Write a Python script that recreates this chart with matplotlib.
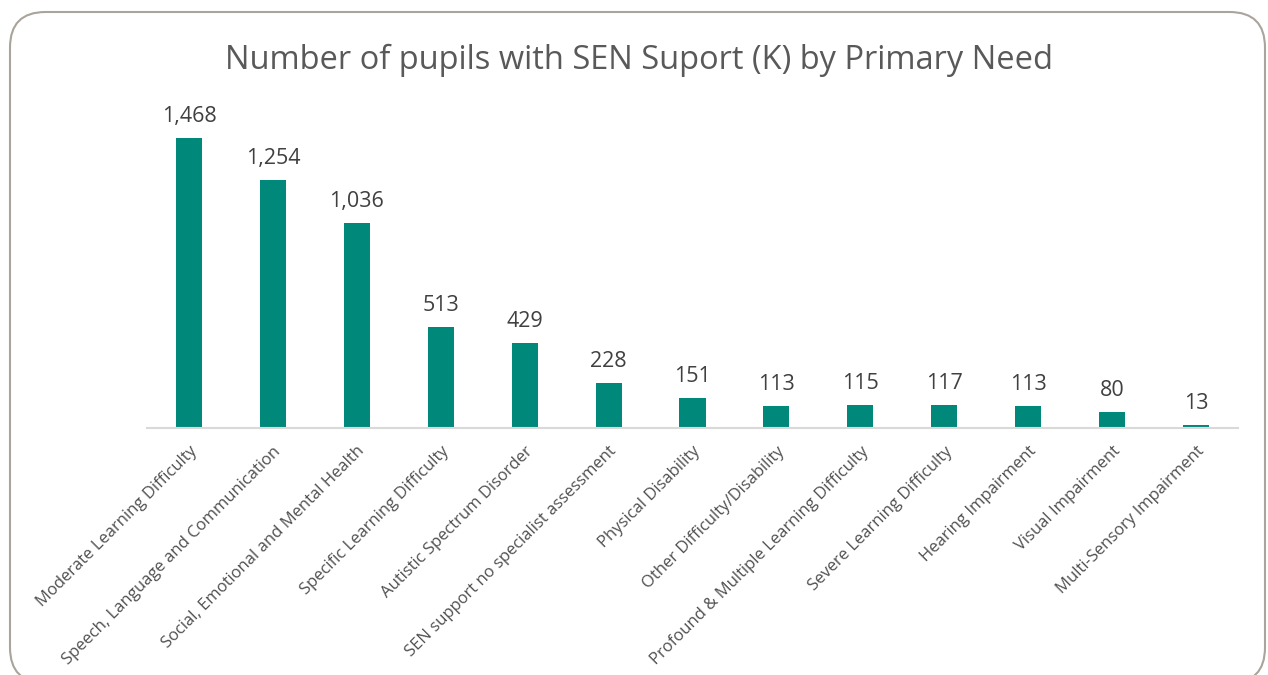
import matplotlib
matplotlib.use("Agg")
import matplotlib.pyplot as plt
from matplotlib.patches import FancyBboxPatch

plt.rcParams["font.family"] = ["Open Sans", "DejaVu Sans"]

# ── data ──
needs = [
    "Moderate Learning Difficulty",
    "Speech, Language and Communication",
    "Social, Emotional and Mental Health",
    "Specific Learning Difficulty",
    "Autistic Spectrum Disorder",
    "SEN support no specialist assessment",
    "Physical Disability",
    "Other Difficulty/Disability",
    "Profound & Multiple Learning Difficulty",
    "Severe Learning Difficulty",
    "Hearing Impairment",
    "Visual Impairment",
    "Multi-Sensory Impairment",
]
pupils = [1468, 1254, 1036, 513, 429, 228, 151, 113, 115, 117, 113, 80, 13]

BAR = "#00897b"
TXT = "#404040"

fig = plt.figure(figsize=(12.68, 6.75), dpi=100, facecolor="white")

# rounded chart border (bottom edge runs just off the picture)
fig.patches.append(FancyBboxPatch(
    (10 / 1268, -8 / 675), 1255 / 1268, 671 / 675,
    boxstyle="round,pad=0,rounding_size=0.028",
    transform=fig.transFigure, facecolor="none",
    edgecolor="#a9a49c", linewidth=1.5, mutation_aspect=1268 / 675,
))

ax = fig.add_axes([147 / 1268, 1 - 428 / 675, 1091 / 1268, 328 / 675])
x = range(len(needs))
ax.bar(x, pupils, width=0.31, color=BAR, zorder=2)
ax.set_xlim(-0.5, len(needs) - 0.5)
ax.set_ylim(0, 1660)

for xi, v in zip(x, pupils):
    ax.annotate(f"{v:,}", (xi, v), xytext=(0, 8), textcoords="offset points",
                ha="center", va="bottom", fontsize=15.5, color=TXT)

ax.set_xticks(list(x))
ax.set_xticklabels(needs, rotation=45, ha="right", rotation_mode="anchor",
                   fontsize=12, color="#505050")
ax.tick_params(axis="x", length=0, pad=11)
ax.set_yticks([])
for side in ("top", "right", "left"):
    ax.spines[side].set_visible(False)
ax.spines["bottom"].set_color("#d9d9d9")
ax.spines["bottom"].set_linewidth(1.5)

fig.text(639 / 1268, 1 - 60 / 675, "Number of pupils with SEN Suport (K) by Primary Need",
         ha="center", va="center", fontsize=23.5, color="#595959")

fig.savefig("out.png", dpi=100, facecolor="white")
